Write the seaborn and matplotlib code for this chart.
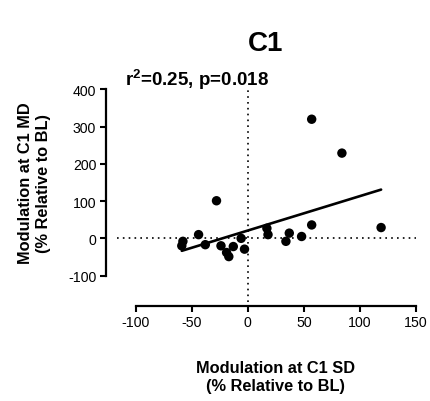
import numpy as np
import matplotlib
matplotlib.use("Agg")
import matplotlib.pyplot as plt
import seaborn as sns

# values
sd_mod = [57, 84, -28, 119, 57, 17, 18, 37, 34, 48, -44, -58, -59, -38, -24, -19, -17, -13, -6, -3]
md_mod = [320, 229, 101, 29, 36, 27, 10, 14, -8, 5, 10, -8, -20, -17, -20, -38, -49, -22, 0, -29]
x_ticks = [-100, -50, 0, 50, 100, 150]
y_ticks = [-100, 0, 100, 200, 300, 400]
stats_text = "r$^{\\mathbf{2}}$=0.25, p=0.018"

sns.set_style("ticks", {"axes.edgecolor": "black", "text.color": "black",
                        "axes.labelcolor": "black", "xtick.color": "black",
                        "ytick.color": "black"})
plt.rcParams["font.family"] = ["Liberation Sans", "DejaVu Sans"]
plt.rcParams["axes.unicode_minus"] = False
plt.rcParams["mathtext.fontset"] = "custom"
plt.rcParams["mathtext.bf"] = "Liberation Sans:bold"
plt.rcParams["mathtext.rm"] = "Liberation Sans:bold"

fig = plt.figure(figsize=(4.3, 4.02), dpi=100)
ax = fig.add_axes([0.316, 0.312, 0.651, 0.463])

# reference lines at zero
ax.axvline(0, ymin=-0.14, ymax=1.0, color="black", ls=(0, (1, 2.5)), lw=1.2, clip_on=False)
ax.axhline(0, xmin=-0.068, xmax=1.0, color="black", ls=(0, (1, 2.5)), lw=1.2, clip_on=False)

sns.regplot(x=sd_mod, y=md_mod, ax=ax, ci=None, truncate=True,
            scatter_kws=dict(s=46, color="black", edgecolor="none", alpha=1),
            line_kws=dict(color="black", lw=1.9))

ax.set_xlim(-100, 150)
ax.set_ylim(-100, 400)
ax.set_xticks(x_ticks)
ax.set_yticks(y_ticks)
ax.tick_params(width=1.5, length=4, labelsize=10.2, pad=3, color="black", labelcolor="black")

for side in ["top", "right"]:
    ax.spines[side].set_visible(False)
ax.spines["left"].set_position(("outward", 21.6))
ax.spines["bottom"].set_position(("outward", 21.6))
ax.spines["left"].set_linewidth(1.6)
ax.spines["bottom"].set_linewidth(1.6)

ax.set_xlabel("Modulation at C1 SD\n(% Relative to BL)", fontweight="bold", fontsize=11.8,
              labelpad=22, linespacing=1.3)
ax.set_ylabel("Modulation at C1 MD\n(% Relative to BL)", fontweight="bold", fontsize=11.8,
              labelpad=12, linespacing=1.3)

fig.text(0.617, 0.89, "C1", fontsize=20, fontweight="bold", ha="center", va="center")
fig.text(0.291, 0.802, stats_text, fontsize=13.5, fontweight="bold", ha="left", va="center")

fig.savefig("out.png", dpi=100)
